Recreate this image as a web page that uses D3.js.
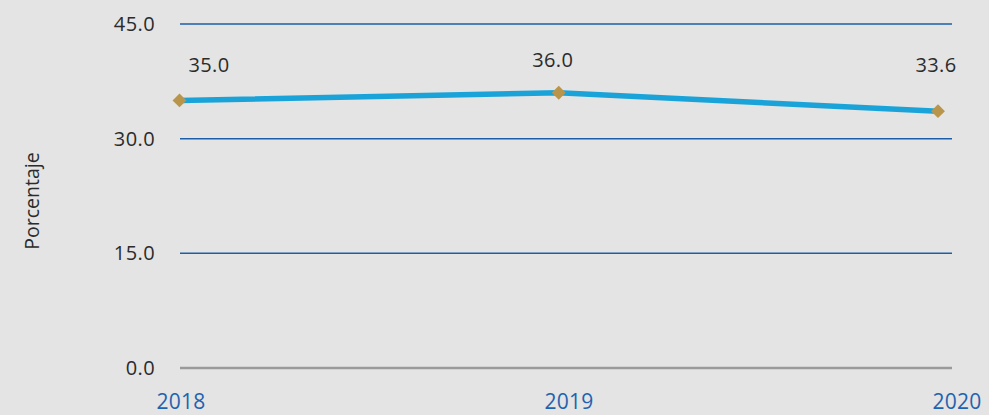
<!DOCTYPE html>
<html>
<head>
<meta charset="utf-8">
<script src="https://cdn.jsdelivr.net/npm/d3@7"></script>
<style>
  html, body { margin: 0; padding: 0; background: #e3e4e3; }
  svg { display: block; font-family: "Open Sans", Lato, sans-serif; }
</style>
</head>
<body>
<div id="chart"></div>
<script>
const years = ["2018", "2019", "2020"];
const values = [35.0, 36.0, 33.6];
const yTicks = [0, 15, 30, 45];

const width = 989;
const height = 415;

const svg = d3.select("#chart")
    .append("svg")
    .attr("width", width)
    .attr("height", height);

const x = d3.scalePoint()
    .domain(years)
    .range([179.5, 938]);

// year labels sit on a slightly wider span than the points
const xLabel = d3.scalePoint()
    .domain(years)
    .range([181, 957]);

const y = d3.scaleLinear()
    .domain([0, 45])
    .range([368, 24]);

// gridlines
svg.append("g")
    .selectAll("line")
    .data(yTicks)
    .join("line")
    .attr("x1", 180)
    .attr("x2", 952)
    .attr("y1", d => y(d))
    .attr("y2", d => y(d))
    .attr("stroke", d => d === 0 ? "#9a9a9a" : "#1d5ea8")
    .attr("stroke-width", d => d === 0 ? 2.5 : 1.5);

// y tick labels
svg.append("g")
    .selectAll("text")
    .data(yTicks)
    .join("text")
    .attr("x", 155)
    .attr("y", d => y(d))
    .attr("dy", "0.35em")
    .attr("text-anchor", "end")
    .attr("font-size", 20)
    .attr("letter-spacing", 0.4)
    .attr("fill", "#2b2b2b")
    .text(d => d3.format(".1f")(d));

// y axis title
svg.append("text")
    .attr("transform", "translate(39,201) rotate(-90)")
    .attr("text-anchor", "middle")
    .attr("font-size", 19.5)
    .attr("fill", "#2b2b2b")
    .text("Porcentaje");

// x labels
svg.append("g")
    .selectAll("text")
    .data(years)
    .join("text")
    .attr("x", d => xLabel(d))
    .attr("y", 409)
    .attr("text-anchor", "middle")
    .attr("font-size", 21)
    .attr("letter-spacing", 0.3)
    .attr("fill", "#1f62b0")
    .text(d => d);

// line
const line = d3.line()
    .x((d, i) => x(years[i]))
    .y(d => y(d));

svg.append("path")
    .datum(values)
    .attr("d", line)
    .attr("fill", "none")
    .attr("stroke", "#1aa3d9")
    .attr("stroke-width", 5.5);

// markers
svg.append("g")
    .selectAll("path")
    .data(values)
    .join("path")
    .attr("d", d3.symbol(d3.symbolSquare, 96))
    .attr("transform", (d, i) => `translate(${x(years[i])},${y(d)}) rotate(45)`)
    .attr("fill", "#b8954a");

// value labels
const labelX = d3.scalePoint()
    .domain(years)
    .range([209, 936]);

svg.append("g")
    .selectAll("text")
    .data(values)
    .join("text")
    .attr("x", (d, i) => i === 1 ? x(years[i]) - 6 : labelX(years[i]))
    .attr("y", d => Math.min(y(d) - 26, 72))
    .attr("text-anchor", "middle")
    .attr("font-size", 20)
    .attr("letter-spacing", 0.4)
    .attr("fill", "#2b2b2b")
    .text(d => d3.format(".1f")(d));
</script>
</body>
</html>
